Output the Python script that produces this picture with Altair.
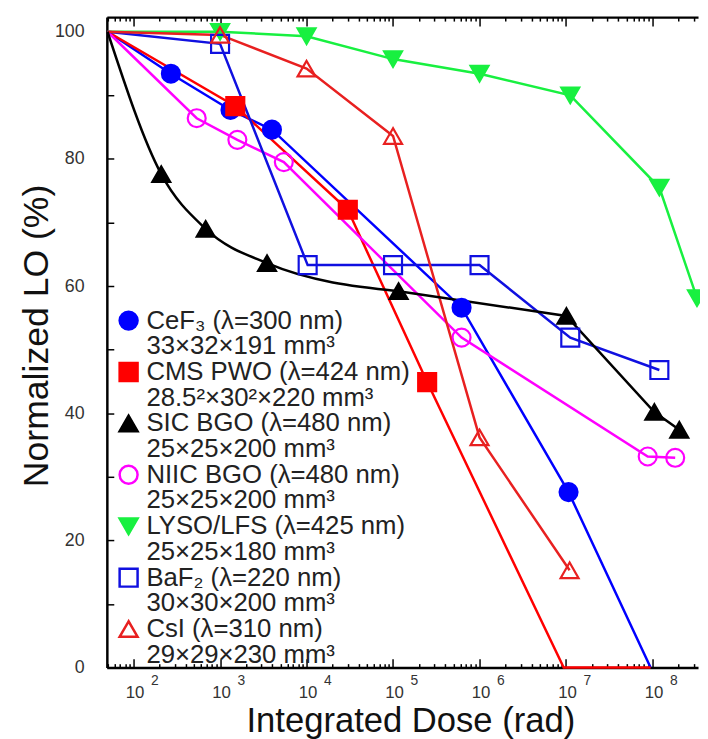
import altair as alt
import pandas as pd

FONT = "Liberation Sans"

# ---------------- data ----------------
keys = ["cef3", "pwo", "sic", "niic", "lyso", "baf2", "csi"]
names = ["CeF₃ (λ=300 nm)", "CMS PWO (λ=424 nm)", "SIC BGO (λ=480 nm)",
         "NIIC BGO (λ=480 nm)", "LYSO/LFS (λ=425 nm)", "BaF₂ (λ=220 nm)",
         "CsI (λ=310 nm)"]
dims = ["33×32×191 mm³", "28.5²×30²×220 mm³", "25×25×200 mm³",
        "25×25×200 mm³", "25×25×180 mm³", "30×30×200 mm³", "29×29×230 mm³"]
stroke_colors = ["#0000FF", "#FF0000", "#000000", "#FF00FF", "#18F040", "#1010E0", "#E82020"]
fill_colors = ["#0000FF", "#FF0000", "#000000", "transparent", "#18F040", "transparent", "transparent"]
shapes = ["circle", "square", "triangle-up", "circle", "triangle-down", "square", "triangle-up"]

cef3_dose = [50, 270, 1320, 3980, 6.2e5, 1.07e7, 9.5e7]
cef3_lo = [100, 93.4, 87.7, 84.6, 56.6, 27.6, 0]
pwo_dose = [50, 1500, 3.0e4, 2.48e5, 9.4e6, 9.5e7]
pwo_lo = [100, 88.3, 72.0, 44.9, 0, 0]
sic_dose = [50, 209, 682, 3490, 1.16e5, 1.01e7, 1.05e8, 2.04e8]
sic_lo = [100, 77.6, 69.0, 63.6, 59.2, 55.3, 40.2, 37.4]
niic_dose = [50, 537, 1585, 5460, 6.2e5, 8.8e7, 1.83e8]
niic_lo = [100, 86.4, 83.0, 79.5, 51.9, 33.2, 33.0]
lyso_dose = [50, 1000, 1e4, 1e5, 1e6, 1.12e7, 1.2e8, 3.27e8]
lyso_lo = [100, 100, 99.3, 95.7, 93.4, 90.0, 75.5, 58.1]
baf2_dose = [50, 1000, 1.03e4, 1e5, 1e6, 1.12e7, 1.2e8]
baf2_lo = [100, 98.1, 63.3, 63.3, 63.3, 51.9, 46.8]
csi_dose = [50, 1000, 1e4, 1e5, 1e6, 1.1e7]
csi_lo = [100, 99.5, 94.2, 83.6, 36.2, 15.3]

decades = [1e2, 1e3, 1e4, 1e5, 1e6, 1e7, 1e8]
x_domain = [49.1, 3.36e8]
y_domain = [0, 102.3]
y_ticks = list(range(0, 101, 10))
y_labels = list(range(0, 101, 20))

# ---------------- tables ----------------
all_dose = [cef3_dose, pwo_dose, sic_dose, niic_dose, lyso_dose, baf2_dose, csi_dose]
all_lo = [cef3_lo, pwo_lo, sic_lo, niic_lo, lyso_lo, baf2_lo, csi_lo]
rows = []
for k, n, ds, ls in zip(keys, names, all_dose, all_lo):
    for i, (d, l) in enumerate(zip(ds, ls)):
        rows.append({"key": k, "series": n, "dose": d, "lo": l, "idx": i})
df = pd.DataFrame(rows)

minor = [m * 10 ** k for k in range(1, 9) for m in range(2, 10)
         if x_domain[0] <= m * 10 ** k <= x_domain[1]]

legend_domain, leg_stroke, leg_fill, leg_shape = [], [], [], []
for i in range(len(names)):
    legend_domain += [names[i], f"{i}|{dims[i]}"]
    leg_stroke += [stroke_colors[i], "transparent"]
    leg_fill += [fill_colors[i], "transparent"]
    leg_shape += [shapes[i], "circle"]

W, H = 598, 658
xs = alt.Scale(type="log", domain=x_domain, nice=False)
ys = alt.Scale(domain=y_domain, nice=False, zero=False)

base = alt.Chart(df)

ax_bottom = alt.Axis(orient="bottom", values=decades, labelExpr="'10'", ticks=False,
                     domain=True, domainColor="black", domainWidth=2.5,
                     labelFontSize=17, labelPadding=17, labelOffset=1, labelColor="#333",
                     labelFont=FONT, title="Integrated Dose (rad)", titleFontSize=35,
                     titleFont=FONT, titleFontWeight="normal", titleColor="#111",
                     titleX=307, titleY=64.5, titleBaseline="alphabetic", titleAlign="center")
ax_expo = alt.Axis(orient="bottom", values=decades,
                   labelExpr="'' + round(log(datum.value) / LN10)", ticks=False, domain=False,
                   labelFontSize=14, labelPadding=6, labelOffset=21, labelColor="#333",
                   labelFont=FONT, title=None)
ax_left = alt.Axis(orient="left", values=y_labels, ticks=False, domain=True,
                   domainColor="black", domainWidth=2.5, labelFontSize=18, labelPadding=23,
                   labelColor="#333", labelFont=FONT, title="Normalized LO (%)",
                   titleFontSize=36, titleFont=FONT, titleFontWeight="normal", titleColor="#111",
                   titleX=-71, titleY=322, titleBaseline="middle", titleAlign="center")
ax_left_in = alt.Axis(orient="right", offset=-W, values=y_ticks, labels=False, domain=False,
                      ticks=True, tickSize=7, tickWidth=1.5, tickColor="black", title=None)


def tick_axis(orient, offset, values, size, domain=False):
    return alt.Axis(orient=orient, offset=offset, values=values, labels=False, domain=domain,
                    domainColor="black", domainWidth=2.5, ticks=size > 0,
                    tickSize=max(size, 1), tickWidth=1.5, tickColor="black", title=None)


lines = base.transform_filter("datum.key != 'sic'").mark_line(strokeWidth=2.5).encode(
    x=alt.X("dose:Q", scale=xs, axis=ax_bottom),
    y=alt.Y("lo:Q", scale=ys, axis=ax_left),
    stroke=alt.Stroke("series:N", scale=alt.Scale(domain=names, range=stroke_colors), legend=None),
    order="idx:Q",
)

# SIC BGO: smooth at low dose, straight segments afterwards
black_curve = base.transform_filter("datum.key == 'sic' && datum.idx <= 4").mark_line(
    strokeWidth=2.5, interpolate="monotone", color="black").encode(
    x=alt.X("dose:Q", scale=xs, axis=ax_expo),
    y=alt.Y("lo:Q", scale=ys, axis=ax_left_in),
    order="idx:Q",
)
black_straight = base.transform_filter("datum.key == 'sic' && datum.idx >= 4").mark_line(
    strokeWidth=2.5, color="black").encode(
    x=alt.X("dose:Q", scale=xs, axis=None),
    y=alt.Y("lo:Q", scale=ys, axis=None),
    order="idx:Q",
)

leg = alt.Legend(orient="none", legendX=9, legendY=294, title=None, labelFontSize=26,
                 labelFont=FONT, labelColor="#222", labelLimit=600,
                 labelExpr="indexof(datum.label, '|') >= 0 ? substring(datum.label, indexof(datum.label, '|') + 1) : datum.label",
                 symbolSize=330, symbolStrokeWidth=2.5, rowPadding=0, clipHeight=26,
                 labelOffset=5, padding=0, direction="vertical")

points = base.transform_filter("datum.dose > 60 && datum.lo > 0").mark_point(
    filled=False, size=330, strokeWidth=2.2, opacity=1).encode(
    x=alt.X("dose:Q", scale=xs, axis=tick_axis("top", -H, decades, 9)),
    y=alt.Y("lo:Q", scale=ys, axis=None),
    color=alt.Color("series:N", scale=alt.Scale(domain=legend_domain, range=leg_stroke), legend=leg),
    fill=alt.Fill("series:N", scale=alt.Scale(domain=legend_domain, range=leg_fill), legend=leg),
    shape=alt.Shape("series:N", scale=alt.Scale(domain=legend_domain, range=leg_shape), legend=leg),
)


def helper(axis):
    return base.mark_point(opacity=0, size=1).encode(
        x=alt.X("dose:Q", scale=xs, axis=axis),
        y=alt.Y("lo:Q", scale=ys, axis=None),
    )


h1 = helper(tick_axis("top", -H, minor, 4))
h2 = helper(tick_axis("top", 0, decades, 0, domain=True))
h3 = helper(tick_axis("bottom", -H, decades, 9))
h4 = helper(tick_axis("bottom", -H, minor, 4))

chart = alt.layer(lines, black_curve, black_straight, points, h1, h2, h3, h4).resolve_axis(
    x="independent", y="independent"
).properties(
    width=W, height=H,
    autosize=alt.AutoSizeParams(type="none"),
    padding={"left": 100, "top": 5, "right": 2, "bottom": 68},
).configure_view(stroke=None).configure_axis(grid=False)

chart.save("out.html", embed_options={"renderer": "svg", "actions": False})
